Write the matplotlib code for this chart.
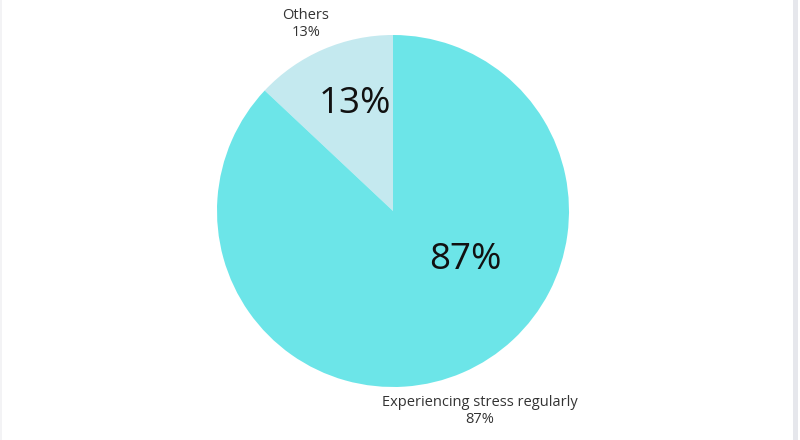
import matplotlib
matplotlib.use('Agg')
import matplotlib.pyplot as plt
from matplotlib.patches import Rectangle

labels = ['Others', 'Experiencing stress regularly']
values = [13, 87]
colors = ['#c4e9ef', '#6ce5e8']

plt.rcParams['font.family'] = ['Open Sans', 'DejaVu Sans']

fig = plt.figure(figsize=(8, 4.4), dpi=100)
ax = fig.add_axes([0, 0, 1, 1])

# pie in pixel-like data coords (y up)
cx, cy, r = 393, 229, 176
ax.pie(values, colors=colors, startangle=90, counterclock=True,
       center=(cx, cy), radius=r, frame=True,
       wedgeprops=dict(linewidth=0))
ax.set_xlim(0, 800)
ax.set_ylim(0, 440)
ax.set_aspect('equal')
ax.axis('off')

# percentages inside the slices
ax.text(cx - 38, cy + 107, f'{values[0]}%', fontsize=26.5, ha='center',
        va='center', color='#111111')
ax.text(cx + 72, cy - 49, f'{values[1]}%', fontsize=26.5, ha='center',
        va='center', color='#111111')

# outside labels
ax.text(306, 416, f'{labels[0]}\n{values[0]}%', fontsize=10.5, ha='center',
        va='center', color='#333333', linespacing=1.2)
ax.text(480, 29, f'{labels[1]}\n{values[1]}%', fontsize=10.5, ha='center',
        va='center', color='#333333', linespacing=1.2)

# thin frame strips at the edges
fig.patches.append(Rectangle((793, 0), 5, 440, transform=None,
                             facecolor='#e6e7ec', edgecolor='none'))
fig.patches.append(Rectangle((0, 0), 2, 440, transform=None,
                             facecolor='#f3f3f5', edgecolor='none'))

fig.savefig('out.png', dpi=100)
